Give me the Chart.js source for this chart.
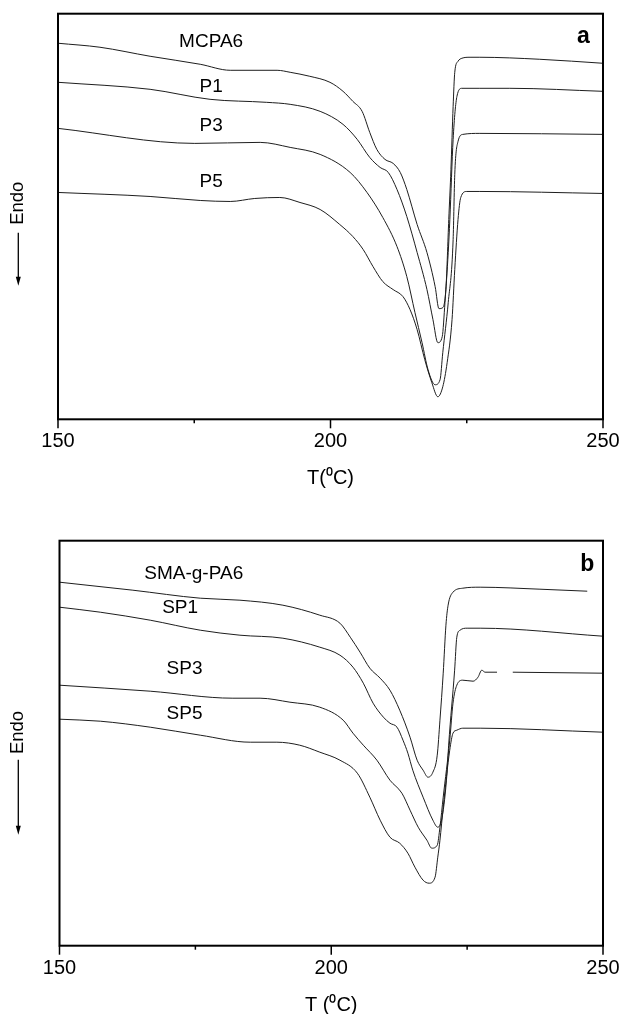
<!DOCTYPE html>
<html lang="en">
<head>
<meta charset="UTF-8">
<title>DSC melting curves</title>
<script src="https://cdn.jsdelivr.net/npm/chart.js"></script>
<style>
    html, body { margin: 0; padding: 0; background: #fff; overflow: hidden; }
    .panel { position: absolute; left: 0; width: 622px; }
    #panelA { top: 0; height: 490px; }
    #panelB { top: 490px; height: 524px; }
</style>
</head>
<body>
<div class="panel" id="panelA"><canvas id="chartA"></canvas></div>
<div class="panel" id="panelB"><canvas id="chartB"></canvas></div>

<script>
// x axis
const xTicks = [150, 175, 200, 225, 250];
const labelledTicks = [150, 200, 250];

// panel a: temperature (°C) and heat flow (arb. units)
const tMCPA6 = [150, 157.7, 166.9, 176.1, 181.6, 190.2, 192.6, 196.2, 199.9, 202.3, 204.1, 205.8, 207.2, 208.5, 210.0, 211.5, 212.8, 214.0, 215.9, 217.7, 219.2, 219.9, 220.6, 221.2, 221.7, 222.1, 222.5, 222.8, 223.4, 224.1, 225.6, 227.4, 238.4, 250];
const hMCPA6 = [75.1, 74.3, 72.5, 70.9, 69.7, 69.7, 69.3, 68.5, 67.3, 65.5, 63.5, 61.5, 57.3, 53.9, 51.9, 51.1, 49.3, 45.9, 38.9, 33.3, 26.5, 22.1, 22.3, 26.5, 39.9, 49.9, 62.5, 69.3, 71.5, 72.1, 72.3, 72.3, 71.9, 71.1];

const tP1 = [150, 166.9, 177.9, 188.3, 192.6, 198.1, 202.3, 204.9, 207.2, 209.1, 210.6, 212.2, 214.0, 215.9, 217.7, 218.8, 219.7, 220.5, 221.0, 221.6, 221.9, 222.5, 223.2, 224.1, 227.4, 232.9, 250];
const hP1 = [67.3, 65.9, 63.9, 63.3, 62.9, 61.5, 58.9, 55.9, 52.3, 50.3, 49.3, 45.9, 40.5, 33.3, 25.9, 19.9, 15.3, 16.5, 23.3, 33.3, 39.9, 55.9, 64.5, 66.1, 66.1, 66.1, 65.5];

const tP3 = [150, 175.1, 187.1, 192.6, 198.1, 203.6, 206.7, 209.6, 212.2, 214.0, 215.5, 216.8, 217.9, 219.2, 220.1, 220.6, 221.6, 222.5, 222.8, 223.4, 224.3, 227.4, 250];
const hP3 = [58.1, 55.1, 55.3, 54.3, 52.9, 49.3, 45.3, 40.3, 34.5, 28.5, 21.3, 15.3, 9.9, 6.9, 7.9, 13.3, 23.3, 35.9, 48.9, 55.5, 56.9, 57.1, 56.9];

const tP5 = [150, 166.9, 176.1, 181.6, 186.1, 190.7, 194.4, 198.1, 201.7, 204.1, 206.0, 207.8, 209.6, 211.5, 213.3, 214.6, 215.9, 217.3, 218.6, 219.7, 220.6, 221.4, 222.3, 222.8, 223.4, 223.9, 225.0, 227.4, 250];
const hP5 = [45.3, 44.5, 43.7, 43.5, 44.1, 44.3, 43.3, 41.9, 38.9, 36.5, 33.9, 30.5, 27.5, 25.9, 24.5, 21.9, 17.9, 11.9, 7.3, 4.5, 6.5, 11.3, 19.9, 29.9, 39.9, 44.3, 45.5, 45.5, 45.1];

// panel b
const tSMA = [150, 163.5, 175.9, 183.2, 191.1, 197.9, 201.6, 203.5, 205.3, 207.1, 209.0, 210.8, 212.6, 214.5, 215.8, 216.9, 217.8, 218.7, 219.5, 220.0, 220.6, 221.1, 221.5, 222.4, 224.2, 227.4, 238.4, 247.1];
const hSMA = [72.7, 71.1, 69.5, 69.1, 68.1, 66.1, 64.5, 61.7, 58.7, 55.5, 53.5, 51.1, 47.1, 41.7, 37.1, 35.1, 33.7, 34.7, 38.1, 45.1, 54.5, 64.1, 68.1, 70.7, 71.5, 71.7, 71.3, 70.9];

const tSP1 = [150, 157.5, 166.7, 175.9, 183.2, 191.1, 197.9, 201.6, 204.0, 205.9, 207.7, 209.6, 210.8, 212.1, 213.2, 214.1, 215.0, 216.9, 218.7, 219.6, 220.4, 221.3, 221.6, 222.7, 223.1, 223.7, 225.0, 227.4, 250];
const hSP1 = [67.7, 66.7, 65.1, 63.1, 62.1, 61.5, 59.7, 58.1, 55.7, 52.5, 48.5, 45.7, 44.5, 43.7, 41.1, 38.5, 35.1, 29.7, 25.1, 23.7, 25.7, 34.5, 40.1, 55.1, 61.7, 63.1, 63.5, 63.5, 61.9];

const tSP3 = [150, 166.7, 181.9, 186.9, 192.4, 197.9, 202.2, 204.0, 205.9, 208.4, 210.8, 213.0, 214.5, 216.0, 217.6, 218.5, 219.5, 220.0, 220.6, 221.8, 222.4, 223.1, 224.2, 226.1, 227.0, 227.7, 228.3, 230.5, 232.0, 233.4, 250];
const hSP3 = [52.1, 50.9, 49.5, 49.5, 48.7, 47.7, 45.1, 42.5, 40.1, 37.1, 33.1, 30.5, 27.1, 23.7, 21.1, 19.5, 20.1, 23.7, 29.7, 41.1, 48.5, 52.1, 53.1, 52.9, 53.7, 55.1, 54.7, 54.7, null, 54.7, 54.5];

const tSP5 = [150, 157.5, 166.7, 175.9, 185.1, 190.0, 194.2, 197.9, 201.6, 204.8, 207.1, 209.0, 210.8, 212.6, 214.1, 215.4, 216.9, 218.0, 219.1, 219.6, 220.0, 220.6, 221.8, 222.4, 223.1, 224.2, 227.4, 250];
const hSP5 = [45.3, 44.9, 43.7, 42.1, 40.7, 40.7, 40.1, 38.7, 37.1, 34.5, 29.7, 25.1, 21.7, 20.5, 18.5, 15.7, 13.1, 12.5, 13.7, 17.7, 21.1, 27.7, 39.1, 42.5, 43.1, 43.5, 43.5, 42.7];

const FONT = '"Liberation Sans", Arial, Helvetica, sans-serif';

function lineSet(name, t, h) {
    return {
        label: name,
        data: t.map((v, i) => ({ x: v, y: h[i] })),
        borderColor: '#1e1e1e',
        borderWidth: 1,
        pointRadius: 0,
        cubicInterpolationMode: 'monotone',
        spanGaps: false,
        fill: false
    };
}

// frame, tick marks, curve names, panel letter and the Endo arrow
function makeNotes(p) {
    return {
        id: 'notes',
        afterDatasetsDraw(chart) {
            const { ctx, chartArea: a, scales: { x, y } } = chart;
            ctx.save();
            ctx.strokeStyle = '#000';
            ctx.fillStyle = '#000';
            ctx.lineWidth = 2;
            ctx.strokeRect(a.left, a.top, a.right - a.left, a.bottom - a.top);

            ctx.lineWidth = 1.5;
            x.ticks.forEach(t => {
                const px = x.getPixelForValue(t.value);
                const len = labelledTicks.includes(t.value) ? 9 : 4;
                ctx.beginPath();
                ctx.moveTo(px, a.bottom);
                ctx.lineTo(px, a.bottom + len);
                ctx.stroke();
            });

            ctx.textAlign = 'center';
            ctx.textBaseline = 'middle';
            ctx.font = '19px ' + FONT;
            p.names.forEach(n => ctx.fillText(n.text, x.getPixelForValue(n.t), y.getPixelForValue(n.h)));
            ctx.font = 'bold 23px ' + FONT;
            ctx.fillText(p.letter.text, x.getPixelForValue(p.letter.t), y.getPixelForValue(p.letter.h));

            const ex = p.endo.x;
            ctx.save();
            ctx.translate(ex, a.top + p.endo.text);
            ctx.rotate(-Math.PI / 2);
            ctx.font = '18.5px ' + FONT;
            ctx.fillText('Endo', 0, 0);
            ctx.restore();
            ctx.lineWidth = 1.3;
            ctx.beginPath();
            ctx.moveTo(ex, a.top + p.endo.from);
            ctx.lineTo(ex, a.top + p.endo.tip - 6);
            ctx.stroke();
            ctx.beginPath();
            ctx.moveTo(ex - 2.5, a.top + p.endo.tip - 9);
            ctx.lineTo(ex + 2.5, a.top + p.endo.tip - 9);
            ctx.lineTo(ex, a.top + p.endo.tip);
            ctx.closePath();
            ctx.fill();
            ctx.restore();
        }
    };
}

function drawPanel(id, datasets, p) {
    new Chart(document.getElementById(id), {
        type: 'line',
        data: { datasets: datasets },
        options: {
            responsive: true,
            maintainAspectRatio: false,
            animation: false,
            layout: { padding: { left: p.left, right: 19, top: p.top, bottom: 0 } },
            plugins: { legend: { display: false }, tooltip: { enabled: false } },
            scales: {
                x: {
                    type: 'linear',
                    min: 150,
                    max: 250,
                    afterBuildTicks: s => { s.ticks = xTicks.map(v => ({ value: v })); },
                    afterFit: s => {
                        s.height = p.axisHeight;
                        s.paddingLeft = 0;
                        s.paddingRight = 0;
                    },
                    grid: { display: false, drawTicks: false },
                    border: { display: false },
                    ticks: {
                        autoSkip: false,
                        maxRotation: 0,
                        padding: p.tickPad,
                        color: '#000',
                        font: { family: FONT, size: 20 },
                        callback: v => labelledTicks.includes(v) ? String(v) : ''
                    },
                    title: {
                        display: true,
                        text: p.title,
                        color: '#000',
                        font: { family: FONT, size: 20 },
                        padding: { top: 0, bottom: p.titlePad }
                    }
                },
                y: { display: false, min: 0, max: 81 }
            }
        },
        plugins: [makeNotes(p)]
    });
}

drawPanel('chartA', [
    lineSet('MCPA6', tMCPA6, hMCPA6),
    lineSet('P1', tP1, hP1),
    lineSet('P3', tP3, hP3),
    lineSet('P5', tP5, hP5)
], {
    left: 58, top: 13.7, axisHeight: 70.7, tickPad: 10, titlePad: 0,
    title: 'T(\u2070C)',
    names: [
        { text: 'MCPA6', t: 178.1, h: 75.4 },
        { text: 'P1', t: 178.1, h: 66.4 },
        { text: 'P3', t: 178.1, h: 58.7 },
        { text: 'P5', t: 178.1, h: 47.4 }
    ],
    letter: { text: 'a', t: 246.4, h: 76.5 },
    endo: { x: 18.3, text: 189.5, from: 219, tip: 272 }
});

drawPanel('chartB', [
    lineSet('SMA-g-PA6', tSMA, hSMA),
    lineSet('SP1', tSP1, hSP1),
    lineSet('SP3', tSP3, hSP3),
    lineSet('SP5', tSP5, hSP5)
], {
    left: 59.5, top: 50.7, axisHeight: 68.3, tickPad: 10.5, titlePad: -3,
    title: 'T (\u2070C)',
    names: [
        { text: 'SMA-g-PA6', t: 174.7, h: 74.4 },
        { text: 'SP1', t: 172.2, h: 67.5 },
        { text: 'SP3', t: 173.0, h: 55.3 },
        { text: 'SP5', t: 173.0, h: 46.3 }
    ],
    letter: { text: 'b', t: 247.1, h: 76.2 },
    endo: { x: 18.3, text: 191.8, from: 219, tip: 294 }
});
</script>
</body>
</html>
